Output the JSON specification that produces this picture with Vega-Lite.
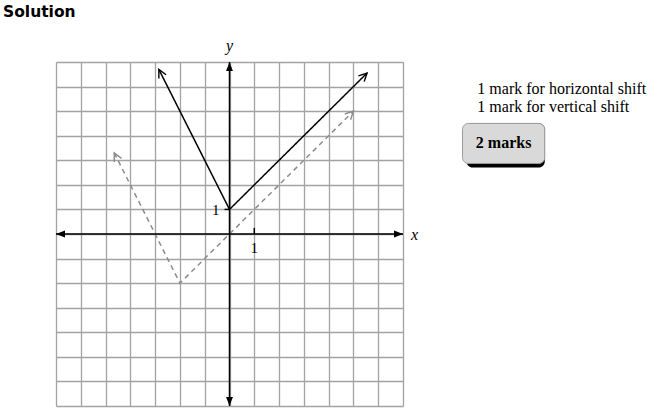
{
  "$schema": "https://vega.github.io/schema/vega-lite/v6.json",
  "width": 347,
  "height": 344,
  "autosize": {"type": "none"},
  "padding": {"left": 56, "top": 62, "right": 255, "bottom": 14},
  "background": "white",
  "config": {"view": {"stroke": null}},
  "title": {
    "text": "Solution",
    "anchor": "start",
    "frame": "group",
    "font": "DejaVu Sans",
    "fontSize": 15.5,
    "fontWeight": "bold",
    "color": "black",
    "baseline": "alphabetic",
    "dx": -53,
    "offset": 6
  },
  "datasets": {
    "graphs": [
      {"curve": "solid", "part": "left", "x": -2.85, "y": 6.7},
      {"curve": "solid", "part": "vertex", "x": 0, "y": 1},
      {"curve": "solid", "part": "right", "x": 5.55, "y": 6.55},
      {"curve": "dashed", "part": "left", "x": -4.65, "y": 3.3},
      {"curve": "dashed", "part": "vertex", "x": -2, "y": -2},
      {"curve": "dashed", "part": "right", "x": 5, "y": 5}
    ],
    "axes": [
      {"axis": "x", "x": -7, "x2": 7, "y": 0, "y2": 0},
      {"axis": "y", "x": 0, "x2": 0, "y": -7, "y2": 7}
    ],
    "axisEnds": [
      {"dir": "left", "x": -7, "y": 0},
      {"dir": "right", "x": 7, "y": 0},
      {"dir": "up", "x": 0, "y": 7},
      {"dir": "down", "x": 0, "y": -7}
    ],
    "ticks": [
      {"axis": "x", "x": 1, "x2": 1, "y": 0, "y2": 0.25},
      {"axis": "y", "x": -0.2, "x2": 0, "y": 1, "y2": 1}
    ],
    "tickLabels": [
      {"axis": "x", "label": "1", "x": 1, "y": 0},
      {"axis": "y", "label": "1", "x": 0, "y": 1}
    ],
    "axisTitles": [
      {"axis": "x", "label": "x", "x": 7, "y": 0},
      {"axis": "y", "label": "y", "x": 0, "y": 7}
    ],
    "notes": [
      {"label": "1 mark for horizontal shift", "x": 10, "y": 5.68},
      {"label": "1 mark for vertical shift", "x": 10, "y": 4.97}
    ],
    "badge": [
      {"label": "2 marks", "x": 9.4, "x2": 12.72, "y": 2.87, "y2": 4.5, "cx": 11.06, "cy": 3.48}
    ]
  },
  "layer": [
    {
      "data": {"name": "graphs"},
      "mark": {"type": "line", "strokeWidth": 1.5},
      "encoding": {
        "x": {
          "field": "x", "type": "quantitative",
          "scale": {"domain": [-7, 7], "nice": false, "zero": false},
          "axis": {"values": [-7,-6,-5,-4,-3,-2,-1,0,1,2,3,4,5,6,7], "tickCount": 30, "labels": false, "ticks": false, "domain": false, "title": null, "grid": true, "gridColor": "#a3a3a3", "gridWidth": 1.3}
        },
        "y": {
          "field": "y", "type": "quantitative",
          "scale": {"domain": [-7, 7], "nice": false, "zero": false},
          "axis": {"values": [-7,-6,-5,-4,-3,-2,-1,0,1,2,3,4,5,6,7], "tickCount": 30, "labels": false, "ticks": false, "domain": false, "title": null, "grid": true, "gridColor": "#a3a3a3", "gridWidth": 1.3}
        },
        "color": {"field": "curve", "type": "nominal", "scale": {"domain": ["dashed", "solid"], "range": ["#8c8c8c", "#000000"]}, "legend": null},
        "strokeDash": {"field": "curve", "type": "nominal", "scale": {"domain": ["dashed", "solid"], "range": [[5, 4], [1, 0]]}, "legend": null},
        "strokeWidth": {"field": "curve", "type": "nominal", "scale": {"domain": ["dashed", "solid"], "range": [1.3, 1.5]}, "legend": null}
      }
    },
    {
      "data": {"name": "graphs"},
      "transform": [{"filter": "datum.part !== 'vertex'"}],
      "mark": {"type": "point", "filled": false, "opacity": 1, "size": 324, "strokeWidth": 1.4},
      "encoding": {
        "x": {"field": "x", "type": "quantitative"},
        "y": {"field": "y", "type": "quantitative"},
        "shape": {"field": "part", "type": "nominal", "scale": {"domain": ["left", "right"], "range": ["M0,1.006L0,0L0.805,0.604", "M-0.955,0.318L0,0L-0.318,0.955"]}, "legend": null},
        "color": {"field": "curve", "type": "nominal", "scale": {"domain": ["dashed", "solid"], "range": ["#8c8c8c", "#000000"]}, "legend": null}
      }
    },
    {
      "data": {"name": "axes"},
      "mark": {"type": "rule", "color": "black", "strokeWidth": 1.5},
      "encoding": {
        "x": {"field": "x", "type": "quantitative"},
        "x2": {"field": "x2"},
        "y": {"field": "y", "type": "quantitative"},
        "y2": {"field": "y2"}
      }
    },
    {
      "data": {"name": "ticks"},
      "mark": {"type": "rule", "color": "black", "strokeWidth": 1.5},
      "encoding": {
        "x": {"field": "x", "type": "quantitative"},
        "x2": {"field": "x2"},
        "y": {"field": "y", "type": "quantitative"},
        "y2": {"field": "y2"}
      }
    },
    {
      "data": {"name": "axisEnds"},
      "transform": [{"filter": "datum.dir === 'up'"}],
      "mark": {"type": "point", "filled": true, "opacity": 1, "size": 324, "color": "black", "strokeWidth": 0, "shape": "M 0 0 L -0.38 1 L 0.38 1 Z"},
      "encoding": {
        "x": {"field": "x", "type": "quantitative"},
        "y": {"field": "y", "type": "quantitative"}
      }
    },
    {
      "data": {"name": "axisEnds"},
      "transform": [{"filter": "datum.dir === 'down'"}],
      "mark": {"type": "point", "filled": true, "opacity": 1, "size": 324, "color": "black", "strokeWidth": 0, "shape": "M 0 0 L -0.38 -1 L 0.38 -1 Z"},
      "encoding": {
        "x": {"field": "x", "type": "quantitative"},
        "y": {"field": "y", "type": "quantitative"}
      }
    },
    {
      "data": {"name": "axisEnds"},
      "transform": [{"filter": "datum.dir === 'left'"}],
      "mark": {"type": "point", "filled": true, "opacity": 1, "size": 324, "color": "black", "strokeWidth": 0, "shape": "M 0 0 L 1 -0.38 L 1 0.38 Z"},
      "encoding": {
        "x": {"field": "x", "type": "quantitative"},
        "y": {"field": "y", "type": "quantitative"}
      }
    },
    {
      "data": {"name": "axisEnds"},
      "transform": [{"filter": "datum.dir === 'right'"}],
      "mark": {"type": "point", "filled": true, "opacity": 1, "size": 324, "color": "black", "strokeWidth": 0, "shape": "M 0 0 L -1 -0.38 L -1 0.38 Z"},
      "encoding": {
        "x": {"field": "x", "type": "quantitative"},
        "y": {"field": "y", "type": "quantitative"}
      }
    },
    {
      "data": {"name": "tickLabels"},
      "transform": [{"filter": "datum.axis === 'x'"}],
      "mark": {"type": "text", "font": "Liberation Serif", "fontSize": 15, "color": "black", "align": "center", "baseline": "alphabetic", "dy": 19},
      "encoding": {
        "x": {"field": "x", "type": "quantitative"},
        "y": {"field": "y", "type": "quantitative"},
        "text": {"field": "label"}
      }
    },
    {
      "data": {"name": "tickLabels"},
      "transform": [{"filter": "datum.axis === 'y'"}],
      "mark": {"type": "text", "font": "Liberation Serif", "fontSize": 15, "color": "black", "align": "right", "baseline": "middle", "dx": -10, "dy": 1},
      "encoding": {
        "x": {"field": "x", "type": "quantitative"},
        "y": {"field": "y", "type": "quantitative"},
        "text": {"field": "label"}
      }
    },
    {
      "data": {"name": "axisTitles"},
      "transform": [{"filter": "datum.axis === 'x'"}],
      "mark": {"type": "text", "font": "Liberation Serif", "fontSize": 16, "fontStyle": "italic", "color": "black", "align": "left", "baseline": "middle", "dx": 8, "dy": 1},
      "encoding": {
        "x": {"field": "x", "type": "quantitative"},
        "y": {"field": "y", "type": "quantitative"},
        "text": {"field": "label"}
      }
    },
    {
      "data": {"name": "axisTitles"},
      "transform": [{"filter": "datum.axis === 'y'"}],
      "mark": {"type": "text", "font": "Liberation Serif", "fontSize": 16, "fontStyle": "italic", "color": "black", "align": "center", "baseline": "alphabetic", "dy": -11},
      "encoding": {
        "x": {"field": "x", "type": "quantitative"},
        "y": {"field": "y", "type": "quantitative"},
        "text": {"field": "label"}
      }
    },
    {
      "data": {"name": "notes"},
      "mark": {"type": "text", "font": "Liberation Serif", "fontSize": 16, "color": "black", "align": "left", "baseline": "alphabetic", "clip": false},
      "encoding": {
        "x": {"field": "x", "type": "quantitative"},
        "y": {"field": "y", "type": "quantitative"},
        "text": {"field": "label"}
      }
    },
    {
      "data": {"name": "badge"},
      "mark": {"type": "rect", "color": "black", "cornerRadius": 6, "xOffset": 4, "yOffset": 4},
      "encoding": {
        "x": {"field": "x", "type": "quantitative"},
        "x2": {"field": "x2"},
        "y": {"field": "y", "type": "quantitative"},
        "y2": {"field": "y2"}
      }
    },
    {
      "data": {"name": "badge"},
      "mark": {"type": "rect", "fill": "#d9d9d9", "stroke": "#9a9a9a", "strokeWidth": 1, "cornerRadius": 6, "opacity": 1},
      "encoding": {
        "x": {"field": "x", "type": "quantitative"},
        "x2": {"field": "x2"},
        "y": {"field": "y", "type": "quantitative"},
        "y2": {"field": "y2"}
      }
    },
    {
      "data": {"name": "badge"},
      "mark": {"type": "text", "font": "Liberation Serif", "fontSize": 16, "fontWeight": "bold", "color": "black", "align": "center", "baseline": "alphabetic"},
      "encoding": {
        "x": {"field": "cx", "type": "quantitative"},
        "y": {"field": "cy", "type": "quantitative"},
        "text": {"field": "label"}
      }
    }
  ]
}
